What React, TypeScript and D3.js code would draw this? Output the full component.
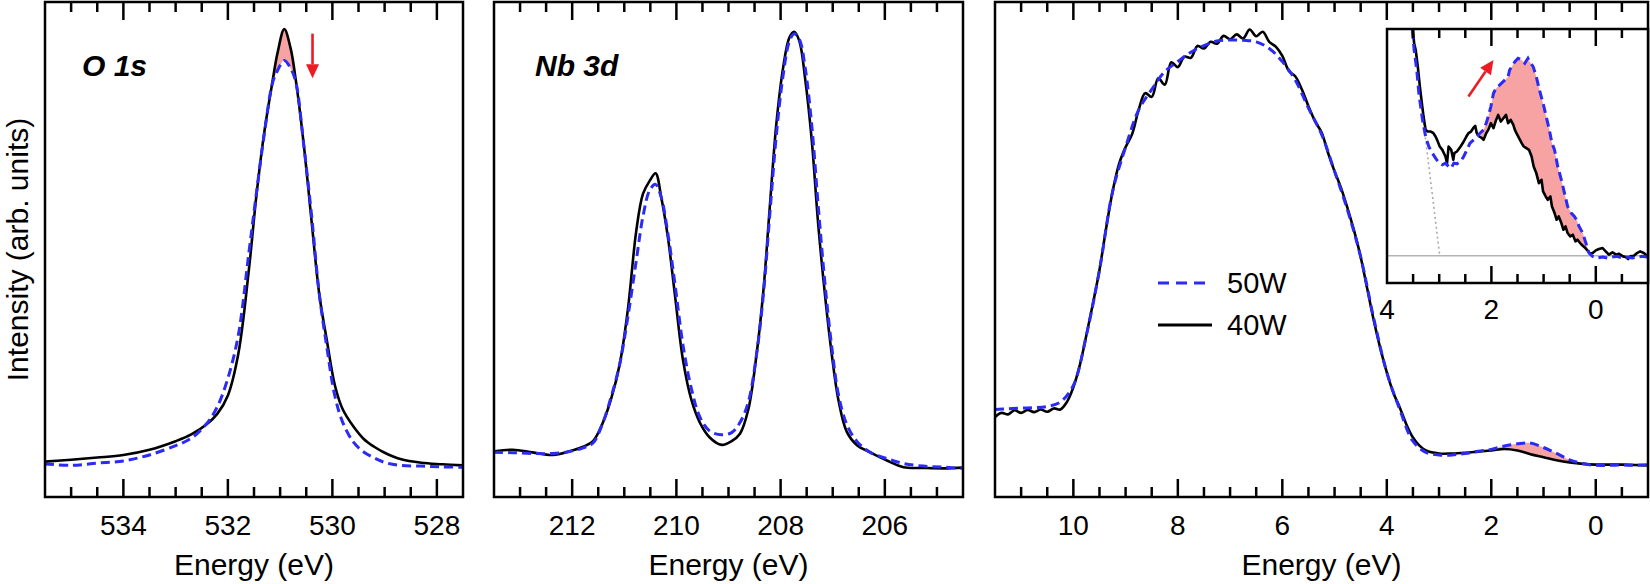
import React from 'react';
import * as d3 from 'd3';

// ---------- O 1s core level ----------
const o1sEnergy = [535.5, 535.0, 534.5, 534.0, 533.5, 533.0, 532.7, 532.4, 532.2, 532.0, 531.8, 531.6, 531.45, 531.3, 531.15, 531.05, 530.92, 530.8, 530.7, 530.55, 530.4, 530.25, 530.1, 529.95, 529.8, 529.6, 529.4, 529.2, 529.0, 528.7, 528.3, 527.9, 527.5];
const o1s40W = [9.5, 10.0, 10.6, 11.3, 12.7, 15.0, 16.8, 19.6, 22.4, 27.3, 38.5, 60.8, 81.5, 98.3, 111.3, 119.3, 125.7, 120.6, 112.0, 95.0, 74.4, 54.4, 41.6, 29.9, 23.5, 19.0, 15.6, 13.5, 11.9, 10.2, 9.2, 8.8, 8.5];
const o1s50W = [8.9, 8.5, 9.1, 9.7, 11.3, 13.8, 15.8, 19.8, 24.3, 31.9, 43.5, 65.4, 82.1, 97.8, 111.0, 114.6, 117.3, 115.2, 111.5, 94.9, 75.9, 54.5, 39.7, 27.0, 20.0, 14.8, 12.1, 10.5, 9.3, 8.5, 8.3, 8.1, 8.0];

// ---------- Nb 3d core level ----------
const nbEnergy = [213.5, 213.14, 212.76, 212.37, 212.05, 211.79, 211.6, 211.41, 211.25, 211.09, 210.93, 210.77, 210.64, 210.51, 210.4, 210.29, 210.16, 210.03, 209.87, 209.71, 209.55, 209.36, 209.13, 208.94, 208.78, 208.62, 208.46, 208.33, 208.21, 208.08, 207.95, 207.83, 207.74, 207.64, 207.53, 207.4, 207.28, 207.15, 207.02, 206.89, 206.73, 206.54, 206.28, 205.96, 205.64, 205.26, 204.87, 204.5];
const nb40W = [12.3, 12.7, 12.0, 11.3, 12.3, 13.5, 15.0, 20.0, 26.5, 35.5, 50.5, 71.5, 81.5, 85.0, 87.0, 80.5, 69.5, 54.5, 36.5, 26.0, 20.0, 16.0, 14.0, 15.0, 17.0, 23.5, 38.5, 55.5, 77.5, 100.5, 115.5, 123.5, 125.0, 122.5, 112.5, 95.5, 73.5, 54.5, 38.5, 26.0, 17.5, 14.0, 12.0, 9.8, 8.0, 7.8, 7.7, 7.9];
const nb50W = [12.0, 11.9, 11.7, 11.7, 12.2, 13.2, 14.5, 20.0, 27.0, 35.5, 48.5, 63.5, 75.5, 82.5, 84.0, 80.5, 70.5, 57.5, 40.5, 29.0, 21.5, 17.7, 16.7, 17.3, 20.0, 25.5, 38.5, 54.5, 75.5, 97.5, 113.5, 122.5, 124.5, 123.0, 115.5, 99.5, 78.5, 57.5, 40.5, 27.5, 19.5, 15.0, 12.0, 10.3, 9.0, 8.3, 8.0, 7.7];

// ---------- valence band ----------
const vb40WEnergy = [11.5, 11.375, 11.25, 11.125, 11.0, 10.875, 10.75, 10.625, 10.5, 10.375, 10.25, 10.125, 10.0, 9.875, 9.75, 9.625, 9.5, 9.375, 9.25, 9.125, 9.0, 8.875, 8.75, 8.625, 8.5, 8.375, 8.25, 8.125, 8.0, 7.875, 7.75, 7.625, 7.5, 7.375, 7.25, 7.125, 7.0, 6.875, 6.75, 6.625, 6.5, 6.375, 6.25, 6.125, 6.0, 5.875, 5.75, 5.625, 5.5, 5.375, 5.25, 5.125, 5.0, 4.875, 4.75, 4.625, 4.5, 4.375, 4.25, 4.125, 4.0, 3.875, 3.75, 3.625, 3.5, 3.375, 3.25, 3.0, 2.75, 2.5, 2.25, 2.0, 1.75, 1.5, 1.25, 1.0, 0.75, 0.5, 0.25, 0.0, -0.25, -0.5, -0.75, -1.0];
const vb40W = [21.5, 22.6, 22.2, 23.3, 22.6, 23.4, 22.8, 23.5, 22.9, 23.8, 23.5, 25.5, 29.5, 35.5, 43.5, 52.0, 61.0, 72.0, 82.0, 89.5, 94.0, 97.5, 104.0, 108.5, 107.5, 112.5, 110.8, 116.8, 115.5, 118.3, 118.0, 121.2, 120.5, 122.3, 121.8, 123.9, 123.0, 124.3, 123.2, 125.6, 123.8, 125.0, 122.3, 121.0, 118.5, 114.5, 113.0, 109.5, 105.0, 101.0, 98.0, 92.5, 87.5, 83.0, 77.5, 71.5, 64.5, 56.0, 47.5, 40.0, 33.5, 28.0, 24.0, 19.5, 16.0, 13.8, 12.5, 11.7, 11.7, 11.9, 12.2, 12.5, 12.9, 12.5, 11.5, 10.7, 9.9, 9.3, 8.9, 8.7, 8.7, 8.7, 8.6, 8.5];
const vb50WEnergy = [11.5, 11.25, 11.0, 10.75, 10.5, 10.25, 10.0, 9.75, 9.5, 9.25, 9.0, 8.75, 8.5, 8.25, 8.0, 7.75, 7.5, 7.25, 7.0, 6.75, 6.5, 6.25, 6.0, 5.75, 5.5, 5.25, 5.0, 4.75, 4.5, 4.25, 4.0, 3.75, 3.5, 3.25, 3.0, 2.75, 2.5, 2.25, 2.0, 1.75, 1.5, 1.25, 1.0, 0.75, 0.5, 0.25, 0.0, -0.25, -0.5, -0.75, -1.0];
const vb50W = [23.5, 23.7, 23.9, 24.0, 24.3, 25.5, 30.0, 43.5, 61.0, 82.0, 94.0, 104.0, 109.5, 114.3, 117.0, 119.5, 121.3, 122.5, 122.8, 122.7, 122.3, 120.5, 117.0, 112.0, 104.5, 97.5, 87.5, 77.0, 64.5, 48.0, 33.5, 23.5, 15.0, 12.0, 11.3, 11.3, 11.7, 12.3, 12.8, 13.7, 14.3, 14.5, 13.3, 11.7, 10.0, 9.0, 8.5, 8.5, 8.6, 8.5, 8.7];

// ---------- inset: near-Fermi-level region ----------
const inset40WEnergy = [3.53, 3.48, 3.45, 3.41, 3.37, 3.34, 3.30, 3.26, 3.22, 3.16, 3.11, 3.07, 3.04, 2.99, 2.94, 2.88, 2.85, 2.82, 2.77, 2.73, 2.71, 2.66, 2.59, 2.53, 2.48, 2.44, 2.39, 2.35, 2.31, 2.28, 2.23, 2.18, 2.15, 2.10, 2.06, 2.01, 1.96, 1.91, 1.87, 1.82, 1.77, 1.72, 1.68, 1.63, 1.58, 1.55, 1.52, 1.47, 1.42, 1.38, 1.33, 1.28, 1.23, 1.19, 1.14, 1.09, 1.04, 1.01, 0.96, 0.92, 0.87, 0.84, 0.79, 0.75, 0.71, 0.66, 0.62, 0.58, 0.54, 0.49, 0.44, 0.39, 0.35, 0.30, 0.25, 0.20, 0.16, 0.11, 0.06, 0.00, -0.06, -0.13, -0.19, -0.25, -0.32, -0.39, -0.44, -0.52, -0.57, -0.62, -0.66, -0.73, -0.79, -0.85, -0.92, -0.98, -1.0];
const inset40W = [72, 63.8, 61.8, 56.8, 50.8, 46.8, 41.8, 37.8, 37.3, 37.3, 36.8, 35.8, 34.8, 32.8, 31.8, 29.8, 27.8, 32.8, 31.8, 28.8, 30.8, 31.3, 32.8, 34.3, 35.8, 36.8, 37.3, 38.3, 39.0, 36.8, 35.8, 35.3, 34.8, 36.8, 37.8, 39.8, 38.3, 40.8, 42.3, 40.3, 41.3, 42.3, 39.8, 40.8, 39.3, 37.8, 36.8, 35.3, 33.8, 32.8, 32.3, 31.8, 29.8, 26.8, 24.8, 21.8, 22.8, 19.3, 17.8, 16.8, 17.8, 14.8, 12.8, 10.8, 11.8, 9.8, 7.8, 8.8, 6.8, 5.8, 6.3, 4.3, 4.8, 3.8, 3.0, 2.3, 1.6, 0.6, 0.8, 1.6, 2.0, 2.3, 1.3, 0.3, 1.0, 0.3, 0.6, -0.2, -0.4, -1.0, -0.2, 0.0, 0.8, 1.3, 0.8, 0.0, 0.2];
const inset50WEnergy = [3.53, 3.51, 3.48, 3.43, 3.39, 3.32, 3.26, 3.20, 3.13, 3.07, 3.01, 2.94, 2.88, 2.82, 2.77, 2.72, 2.66, 2.59, 2.53, 2.47, 2.41, 2.34, 2.27, 2.22, 2.15, 2.10, 2.06, 2.01, 1.96, 1.91, 1.84, 1.74, 1.68, 1.65, 1.59, 1.55, 1.49, 1.42, 1.36, 1.30, 1.27, 1.20, 1.14, 1.08, 1.01, 0.95, 0.89, 0.84, 0.79, 0.73, 0.66, 0.60, 0.54, 0.47, 0.41, 0.37, 0.32, 0.25, 0.19, 0.13, 0.06, -0.03, -0.13, -0.22, -0.32, -0.41, -0.51, -0.60, -0.70, -0.79, -0.89, -0.98, -1.0];
const inset50W = [72, 66.8, 61.8, 55.8, 48.8, 40.8, 35.8, 32.8, 30.8, 29.3, 28.0, 27.3, 27.8, 26.8, 26.3, 27.8, 27.6, 28.3, 29.8, 31.8, 33.8, 34.8, 35.8, 36.8, 37.8, 39.8, 41.8, 44.8, 48.8, 50.3, 51.3, 52.8, 53.8, 55.8, 57.3, 58.3, 59.3, 58.8, 57.8, 59.3, 58.3, 56.8, 53.8, 49.8, 45.8, 41.8, 37.8, 33.8, 31.8, 26.8, 22.8, 18.8, 14.8, 12.8, 11.8, 10.8, 8.8, 6.8, 3.8, 0.8, -0.2, -0.7, -0.4, -0.7, -0.4, -0.2, -0.7, -0.4, -0.7, -0.4, -0.2, -0.4, -0.4];
// linear extrapolation of the band edge (dotted grey)
const insetEdgeEnergy = [3.30, 2.99];
const insetEdge = [40, 0];

// ---------- ticks, labels ----------
const o1sTicks = [534, 532, 530, 528];
const nbTicks = [212, 210, 208, 206];
const vbTicks = [10, 8, 6, 4, 2, 0];
const insetTicks = [4, 2, 0];
const legendLabels = ['50W', '40W'];

// shaded difference ranges (eV) and arrows
const o1sFillRange: [number, number] = [530.7, 531.15];
const vbFillRange: [number, number] = [0.25, 2.25];
const insetFillRange: [number, number] = [0.13, 2.22];
const o1sArrow = { e: 530.38, from: 124.5, to: 112.5 };
const insetArrow = { e0: 2.44, v0: 47.8, e1: 1.96, v1: 58.8 };

const FONT = "'Liberation Sans', Arial, Helvetica, sans-serif";
const BLUE = '#2b2bf5';
const RED = '#ec1c24';
const PINK = '#f7a3a3';

const TOP = 2;
const BOTTOM = 497;
const yMain = d3.scaleLinear().domain([0, 133]).range([BOTTOM, TOP]);
const xO1s = d3.scaleLinear().domain([535.5, 527.5]).range([45, 463]);
const xNb = d3.scaleLinear().domain([213.5, 204.5]).range([494, 963]);
const xVb = d3.scaleLinear().domain([11.5, -1]).range([995, 1648]);
const xIn = d3.scaleLinear().domain([4, -1]).range([1387, 1648]);
const yIn = d3.scaleLinear().domain([-8.2, 68.1]).range([283, 29]);

type Pt = [number, number];
type Scale = d3.ScaleLinear<number, number>;
const zip = (xs: number[], ys: number[]): Pt[] => xs.map((x, i) => [x, ys[i]]);

function linePath(pts: Pt[], x: Scale, y: Scale, smooth = true) {
  const gen = d3.line<Pt>().x(p => x(p[0])).y(p => y(p[1]));
  gen.curve(smooth ? d3.curveCatmullRom.alpha(0.5) : d3.curveLinear);
  return gen(pts) || '';
}

// band between an upper and a lower series, on the upper series' energies
function bandPath(upper: Pt[], lower: Pt[], range: [number, number], x: Scale, y: Scale, smooth = true) {
  const lowAt = new Map(lower.map(p => [p[0], p[1]]));
  const rows = upper.filter(p => p[0] >= range[0] - 1e-9 && p[0] <= range[1] + 1e-9 && lowAt.has(p[0]));
  const gen = d3.area<Pt>()
    .x(p => x(p[0]))
    .y0(p => y(lowAt.get(p[0]) as number))
    .y1(p => y(Math.max(p[1], lowAt.get(p[0]) as number)));
  gen.curve(smooth ? d3.curveCatmullRom.alpha(0.5) : d3.curveLinear);
  return gen(rows) || '';
}

// closed polygon between two series sampled on different energies
function polyPath(upper: Pt[], lower: Pt[], range: [number, number], x: Scale, y: Scale) {
  const inR = (p: Pt) => p[0] >= range[0] - 1e-9 && p[0] <= range[1] + 1e-9;
  const pts = [...upper.filter(inR), ...lower.filter(inR).reverse()];
  return (d3.line<Pt>().x(p => x(p[0])).y(p => y(p[1]))(pts) || '') + 'Z';
}

function Arrow({ x1, y1, x2, y2 }: { x1: number; y1: number; x2: number; y2: number }) {
  const ang = Math.atan2(y2 - y1, x2 - x1);
  const len = 14, half = 6.5;
  const bx = x2 - len * Math.cos(ang), by = y2 - len * Math.sin(ang);
  const px = -Math.sin(ang) * half, py = Math.cos(ang) * half;
  return (
    <g>
      <line x1={x1} y1={y1} x2={bx} y2={by} stroke={RED} strokeWidth={2.6} />
      <polygon points={`${x2},${y2} ${bx + px},${by + py} ${bx - px},${by - py}`} fill={RED} />
    </g>
  );
}

function Frame({ x, top, bottom, major, majorLen, minorLen, labelY, fontSize }: {
  x: Scale; top: number; bottom: number; major: number[]; majorLen: number; minorLen: number; labelY: number; fontSize: number;
}) {
  const [d0, d1] = x.domain();
  const [r0, r1] = x.range();
  const lo = Math.min(d0, d1), hi = Math.max(d0, d1);
  const inside = (v: number) => v > lo + 1e-6 && v < hi - 1e-6;
  const minor = d3.range(Math.ceil(lo * 2) / 2, hi + 1e-9, 0.5)
    .filter(v => inside(v) && !major.some(m => Math.abs(m - v) < 1e-6));
  const majorIn = major.filter(inside);
  return (
    <g stroke="#000" strokeWidth={2.5}>
      {minor.map(v => (
        <g key={'mi' + v}>
          <line x1={x(v)} x2={x(v)} y1={top} y2={top + minorLen} />
          <line x1={x(v)} x2={x(v)} y1={bottom} y2={bottom - minorLen} />
        </g>
      ))}
      {majorIn.map(v => (
        <g key={'ma' + v}>
          <line x1={x(v)} x2={x(v)} y1={top} y2={top + majorLen} />
          <line x1={x(v)} x2={x(v)} y1={bottom} y2={bottom - majorLen} />
        </g>
      ))}
      <rect x={r0} y={top} width={r1 - r0} height={bottom - top} fill="none" />
      {major.map(v => (
        <text key={'lb' + v} x={x(v)} y={labelY} textAnchor="middle" stroke="none" fill="#000"
          fontSize={fontSize} fontFamily={FONT}>{v}</text>
      ))}
    </g>
  );
}

function Curves({ black, blue, x, y, smooth = true }: { black: Pt[]; blue: Pt[]; x: Scale; y: Scale; smooth?: boolean }) {
  return (
    <g fill="none">
      <path d={linePath(black, x, y, smooth)} stroke="#000" strokeWidth={2.6} strokeLinejoin="round" />
      <path d={linePath(blue, x, y, smooth)} stroke={BLUE} strokeWidth={3} strokeDasharray="9,5" />
    </g>
  );
}

export default function App() {
  const o1sBlack = zip(o1sEnergy, o1s40W);
  const o1sBlue = zip(o1sEnergy, o1s50W);
  const nbBlack = zip(nbEnergy, nb40W);
  const nbBlue = zip(nbEnergy, nb50W);
  const vbBlack = zip(vb40WEnergy, vb40W);
  const vbBlue = zip(vb50WEnergy, vb50W);
  const inBlack = zip(inset40WEnergy, inset40W);
  const inBlue = zip(inset50WEnergy, inset50W);
  const edge = zip(insetEdgeEnergy, insetEdge);

  const clip = (id: string, x: Scale, top: number, bottom: number) => (
    <clipPath id={id}>
      <rect x={x.range()[0]} y={top} width={x.range()[1] - x.range()[0]} height={bottom - top} />
    </clipPath>
  );

  const xTitleY = 575;
  const tickY = 535;
  const inTop = yIn.range()[1];
  const inBottom = yIn.range()[0];

  return (
    <svg width={1650} height={584} style={{ position: 'absolute', left: 0, top: 0, background: '#fff' }}
      fontFamily={FONT}>
      <defs>
        {clip('clip-o1s', xO1s, TOP, BOTTOM)}
        {clip('clip-nb', xNb, TOP, BOTTOM)}
        {clip('clip-vb', xVb, TOP, BOTTOM)}
        {clip('clip-in', xIn, inTop, inBottom)}
      </defs>
      <rect width={1650} height={584} fill="#fff" />

      {/* O 1s */}
      <g clipPath="url(#clip-o1s)">
        <path d={bandPath(o1sBlack, o1sBlue, o1sFillRange, xO1s, yMain)} fill={PINK} />
        <Curves black={o1sBlack} blue={o1sBlue} x={xO1s} y={yMain} />
      </g>
      <Arrow x1={xO1s(o1sArrow.e)} y1={yMain(o1sArrow.from)} x2={xO1s(o1sArrow.e)} y2={yMain(o1sArrow.to)} />
      <Frame x={xO1s} top={TOP} bottom={BOTTOM} major={o1sTicks} majorLen={18} minorLen={10} labelY={tickY} fontSize={28} />
      <text x={82} y={76} fontSize={30} fontWeight="bold" fontStyle="italic">O 1s</text>
      <text x={(xO1s.range()[0] + xO1s.range()[1]) / 2} y={xTitleY} fontSize={30} textAnchor="middle">Energy (eV)</text>

      {/* Nb 3d */}
      <g clipPath="url(#clip-nb)">
        <Curves black={nbBlack} blue={nbBlue} x={xNb} y={yMain} />
      </g>
      <Frame x={xNb} top={TOP} bottom={BOTTOM} major={nbTicks} majorLen={18} minorLen={10} labelY={tickY} fontSize={28} />
      <text x={535} y={76} fontSize={30} fontWeight="bold" fontStyle="italic">Nb 3d</text>
      <text x={(xNb.range()[0] + xNb.range()[1]) / 2} y={xTitleY} fontSize={30} textAnchor="middle">Energy (eV)</text>

      {/* valence band */}
      <g clipPath="url(#clip-vb)">
        <path d={bandPath(vbBlue, vbBlack, vbFillRange, xVb, yMain)} fill={PINK} />
        <Curves black={vbBlack} blue={vbBlue} x={xVb} y={yMain} />
      </g>
      <Frame x={xVb} top={TOP} bottom={BOTTOM} major={vbTicks} majorLen={18} minorLen={10} labelY={tickY} fontSize={28} />
      <text x={(xVb.range()[0] + xVb.range()[1]) / 2} y={xTitleY} fontSize={30} textAnchor="middle">Energy (eV)</text>

      {/* legend */}
      <g>
        <line x1={1158} x2={1212} y1={283} y2={283} stroke={BLUE} strokeWidth={3.2} strokeDasharray="11,7" />
        <text x={1227} y={293} fontSize={29}>{legendLabels[0]}</text>
        <line x1={1158} x2={1212} y1={325} y2={325} stroke="#000" strokeWidth={3} />
        <text x={1227} y={335} fontSize={29}>{legendLabels[1]}</text>
      </g>

      {/* inset */}
      <rect x={xIn.range()[0]} y={inTop} width={xIn.range()[1] - xIn.range()[0]} height={inBottom - inTop} fill="#fff" />
      <g clipPath="url(#clip-in)">
        <line x1={xIn.range()[0]} x2={xIn.range()[1]} y1={yIn(0)} y2={yIn(0)} stroke="#b4b4b4" strokeWidth={1.6} />
        <path d={linePath(edge, xIn, yIn, false)} stroke="#aaa" strokeWidth={1.6} strokeDasharray="2,3" fill="none" />
        <path d={polyPath(inBlue, inBlack, insetFillRange, xIn, yIn)} fill={PINK} />
        <Curves black={inBlack} blue={inBlue} x={xIn} y={yIn} smooth={false} />
      </g>
      <Arrow x1={xIn(insetArrow.e0)} y1={yIn(insetArrow.v0)} x2={xIn(insetArrow.e1)} y2={yIn(insetArrow.v1)} />
      <Frame x={xIn} top={inTop} bottom={inBottom} major={insetTicks} majorLen={17} minorLen={9} labelY={319} fontSize={28} />

      {/* y axis title */}
      <text transform={`translate(28,${(TOP + BOTTOM) / 2}) rotate(-90)`} textAnchor="middle" fontSize={30}>
        Intensity (arb. units)
      </text>
    </svg>
  );
}
